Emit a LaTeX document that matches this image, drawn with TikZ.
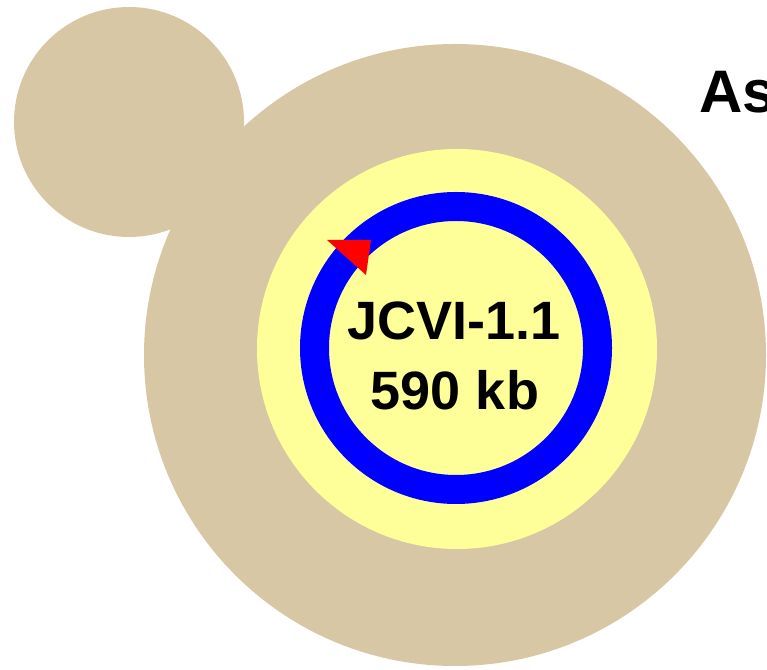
\documentclass[tikz,border=0pt]{standalone}
\usepackage{fontspec}
\setmainfont{Liberation Sans}
\definecolor{cellTan}{RGB}{216,199,164}
\definecolor{nucleoid}{RGB}{255,255,153}
\definecolor{genomeBlue}{RGB}{0,0,255}
\definecolor{originRed}{RGB}{255,0,0}
\tikzset{
  label text/.style={font=\fontsize{54}{60}\selectfont\bfseries, inner sep=0pt, text=black},
  heading text/.style={font=\fontsize{60}{66}\selectfont\bfseries, inner sep=0pt, text=black},
}
\begin{document}
\begin{tikzpicture}[x=1pt,y=1pt]
  \useasboundingbox (0,0) rectangle (767,669);
  % budding cell body
  \fill[cellTan] (129,547) circle[radius=115];
  \fill[cellTan] (455,314) circle[radius=311];
  % nucleoid region
  \fill[nucleoid] (457,320) circle[radius=200];
  % circular genome
  \draw[genomeBlue, line width=29pt] (456,321) circle[radius=141.5];
  % origin arrowhead
  \fill[originRed] (327,429) -- (371,429) -- (366,394) -- cycle;
  % labels
  \node[label text, anchor=base] (name) at (454,329) {JCVI-1.1};
  \node[label text, anchor=base] (size) at (455,259) {590 kb};
  \node[heading text, anchor=base west] (title) at (699,556) {As};
\end{tikzpicture}
\end{document}
